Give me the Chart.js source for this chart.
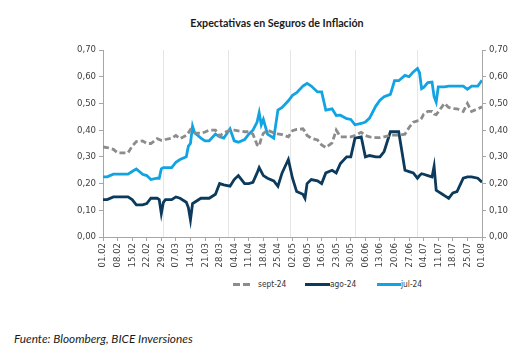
<!DOCTYPE html>
<html lang="es">
<head>
<meta charset="UTF-8">
<title>Expectativas en Seguros de Inflación</title>
<script src="https://cdn.jsdelivr.net/npm/chart.js"></script>
<style>
    * { margin: 0; padding: 0; box-sizing: border-box; }
    body { width: 520px; height: 361px; background: #fff; position: relative; overflow: hidden; font-family: 'Liberation Sans Narrow', 'DejaVu Sans Condensed', sans-serif; }
    #title { position: absolute; top: 16px; left: 0; width: 554px; text-align: center; font-family: Lato, sans-serif; font-weight: bold; font-size: 10.7px; color: #1a1a1a; }
    #wrap { position: absolute; left: 0; top: 0; width: 520px; height: 275px; }
    .sw { position: absolute; top: 283px; height: 3px; }
    .lbl { position: absolute; top: 278px; font-size: 8.3px; line-height: 12px; color: #333; }
    #source { position: absolute; top: 331px; left: 14px; font-family: Lato, sans-serif; font-style: italic; font-size: 11.8px; color: #1a1a1a; }
</style>
</head>
<body>
<div id="title">Expectativas en Seguros de Inflación</div>
<div id="wrap"><canvas id="chart"></canvas></div>
<span class="sw" style="left:233px;width:18px;background:repeating-linear-gradient(90deg,#8c8c8c 0 7px,transparent 7px 10px)"></span>
<span class="lbl" style="left:258px">sept-24</span>
<span class="sw" style="left:305px;width:25px;background:#0b3a5c"></span>
<span class="lbl" style="left:330px">ago-24</span>
<span class="sw" style="left:377px;width:24px;background:#12a3e3"></span>
<span class="lbl" style="left:401px">jul-24</span>
<div id="source">Fuente: Bloomberg, BICE Inversiones</div>

<script>
    // fechas (2024) y valores
    const dates = [
        '2024-02-01','2024-02-03','2024-02-06','2024-02-08','2024-02-10','2024-02-13','2024-02-15','2024-02-17','2024-02-20','2024-02-22',
        '2024-02-24','2024-02-27','2024-02-28','2024-02-29','2024-03-01','2024-03-02','2024-03-05','2024-03-07','2024-03-09','2024-03-12',
        '2024-03-13','2024-03-14','2024-03-15','2024-03-16','2024-03-19','2024-03-21','2024-03-23','2024-03-26','2024-03-28','2024-03-30',
        '2024-04-02','2024-04-04','2024-04-06','2024-04-09','2024-04-11','2024-04-13','2024-04-15','2024-04-16','2024-04-17','2024-04-18',
        '2024-04-20','2024-04-23','2024-04-25','2024-04-27','2024-04-30','2024-05-02','2024-05-04','2024-05-07','2024-05-08','2024-05-09',
        '2024-05-11','2024-05-14','2024-05-16','2024-05-18','2024-05-21','2024-05-23','2024-05-25','2024-05-28','2024-05-30','2024-06-01',
        '2024-06-04','2024-06-06','2024-06-08','2024-06-11','2024-06-13','2024-06-15','2024-06-18','2024-06-20','2024-06-22','2024-06-25',
        '2024-06-27','2024-06-29','2024-07-01','2024-07-02','2024-07-03','2024-07-04','2024-07-06','2024-07-08','2024-07-09','2024-07-10',
        '2024-07-11','2024-07-13','2024-07-14','2024-07-16','2024-07-18','2024-07-20','2024-07-23','2024-07-25','2024-07-27','2024-07-30',
        '2024-08-01'
    ];

    const sept24 = [
        0.337, 0.335, 0.328, 0.315, 0.315, 0.315, 0.340, 0.357, 0.360, 0.350,
        0.350, 0.368, 0.365, 0.362, 0.362, 0.365, 0.370, 0.380, 0.368, 0.380,
        0.390, 0.402, 0.395, 0.390, 0.388, 0.393, 0.400, 0.400, 0.378, 0.390,
        0.400, 0.400, 0.397, 0.394, 0.394, 0.385, 0.345, 0.340, 0.370, 0.388,
        0.400, 0.390, 0.386, 0.383, 0.375, 0.398, 0.403, 0.405, 0.395, 0.380,
        0.370, 0.363, 0.345, 0.335, 0.352, 0.400, 0.375, 0.375, 0.375, 0.380,
        0.392, 0.380, 0.375, 0.372, 0.372, 0.375, 0.381, 0.381, 0.381, 0.385,
        0.410, 0.430, 0.435, 0.436, 0.445, 0.460, 0.470, 0.470, 0.460, 0.458,
        0.468, 0.490, 0.500, 0.485, 0.481, 0.480, 0.470, 0.500, 0.470, 0.480,
        0.487
    ];

    const ago24 = [
        0.140, 0.140, 0.150, 0.150, 0.150, 0.150, 0.140, 0.120, 0.120, 0.125,
        0.145, 0.145, 0.140, 0.088, 0.130, 0.140, 0.140, 0.150, 0.145, 0.130,
        0.110, 0.064, 0.125, 0.130, 0.145, 0.145, 0.145, 0.160, 0.200, 0.195,
        0.190, 0.215, 0.230, 0.200, 0.200, 0.205, 0.240, 0.260, 0.245, 0.230,
        0.220, 0.210, 0.190, 0.240, 0.290, 0.220, 0.170, 0.160, 0.145, 0.200,
        0.215, 0.210, 0.200, 0.240, 0.250, 0.240, 0.275, 0.300, 0.300, 0.370,
        0.375, 0.300, 0.305, 0.300, 0.300, 0.320, 0.394, 0.394, 0.394, 0.250,
        0.245, 0.240, 0.220, 0.230, 0.237, 0.235, 0.230, 0.225, 0.265, 0.175,
        0.170, 0.160, 0.155, 0.145, 0.165, 0.170, 0.220, 0.225, 0.225, 0.220,
        0.205
    ];

    const jul24 = [
        0.225, 0.225, 0.235, 0.235, 0.235, 0.235, 0.245, 0.255, 0.235, 0.230,
        0.215, 0.220, 0.220, 0.255, 0.260, 0.260, 0.260, 0.280, 0.290, 0.300,
        0.340, 0.350, 0.415, 0.390, 0.370, 0.360, 0.360, 0.385, 0.375, 0.370,
        0.405, 0.360, 0.355, 0.365, 0.385, 0.400, 0.430, 0.465, 0.420, 0.440,
        0.385, 0.370, 0.475, 0.485, 0.510, 0.530, 0.540, 0.565, 0.570, 0.575,
        0.565, 0.543, 0.543, 0.475, 0.480, 0.455, 0.456, 0.443, 0.440, 0.420,
        0.425, 0.430, 0.445, 0.490, 0.512, 0.525, 0.534, 0.585, 0.585, 0.605,
        0.600, 0.618, 0.631, 0.615, 0.555, 0.560, 0.578, 0.580, 0.525, 0.505,
        0.562, 0.562, 0.562, 0.565, 0.565, 0.565, 0.565, 0.553, 0.565, 0.565,
        0.587
    ];

    // líneas verticales de la grilla al inicio de cada mes
    const monthStarts = ['2024-03-01', '2024-04-01', '2024-05-01', '2024-06-01', '2024-07-01'];

    const start = Date.parse('2024-02-01');
    const dayOf = s => (Date.parse(s) - start) / 86400000;
    const points = vals => dates.map((d, i) => ({ x: dayOf(d), y: vals[i] }));

    const fmtDate = v => {
        const d = new Date(start + v * 86400000);
        return String(d.getUTCDate()).padStart(2, '0') + '.' + String(d.getUTCMonth() + 1).padStart(2, '0');
    };
    const fmtNum = v => v.toFixed(2).replace('.', ',');

    const monthGrid = {
        id: 'monthGrid',
        beforeDatasetsDraw(chart) {
            const { ctx, chartArea, scales } = chart;
            ctx.save();
            ctx.strokeStyle = '#e6e6e6';
            ctx.lineWidth = 1;
            monthStarts.forEach(m => {
                const x = Math.round(scales.x.getPixelForValue(dayOf(m))) + 0.5;
                ctx.beginPath();
                ctx.moveTo(x, chartArea.top);
                ctx.lineTo(x, chartArea.bottom);
                ctx.stroke();
            });
            ctx.restore();
        }
    };

    const tickFont = { family: "'Liberation Sans Narrow', 'DejaVu Sans Condensed', sans-serif", size: 9.5 };
    const axisColor = '#a6a6a6';

    const yAxis = (position, width) => ({
        type: 'linear',
        position: position,
        min: 0,
        max: 0.7,
        ticks: { stepSize: 0.1, font: tickFont, color: '#404040', padding: 3, callback: fmtNum },
        grid: { drawOnChartArea: false, color: axisColor, tickLength: 4 },
        border: { color: axisColor },
        afterFit: s => { s.width = width; }
    });

    new Chart(document.getElementById('chart'), {
        type: 'line',
        data: {
            datasets: [
                { label: 'sept-24', data: points(sept24), borderColor: '#8c8c8c', borderWidth: 2.8, borderDash: [6, 3], yAxisID: 'y' },
                { label: 'ago-24', data: points(ago24), borderColor: '#0b3a5c', borderWidth: 2.8, yAxisID: 'y' },
                { label: 'jul-24', data: points(jul24), borderColor: '#12a3e3', borderWidth: 2.8, yAxisID: 'y' }
            ]
        },
        options: {
            responsive: true,
            maintainAspectRatio: false,
            animation: false,
            elements: { point: { radius: 0 }, line: { tension: 0 } },
            layout: { padding: { top: 50, left: 0, right: 0, bottom: 0 } },
            plugins: { legend: { display: false }, tooltip: { enabled: false } },
            scales: {
                x: {
                    type: 'linear',
                    min: 0,
                    max: 182,
                    ticks: { stepSize: 7, autoSkip: false, minRotation: 90, maxRotation: 90, font: tickFont, color: '#404040', padding: 2, callback: fmtDate },
                    grid: { drawOnChartArea: false, color: axisColor, tickLength: 4 },
                    border: { color: axisColor },
                    afterFit: s => { s.height = 38; }
                },
                y: yAxis('left', 103),
                y2: yAxis('right', 38)
            }
        },
        plugins: [monthGrid]
    });
</script>
</body>
</html>
